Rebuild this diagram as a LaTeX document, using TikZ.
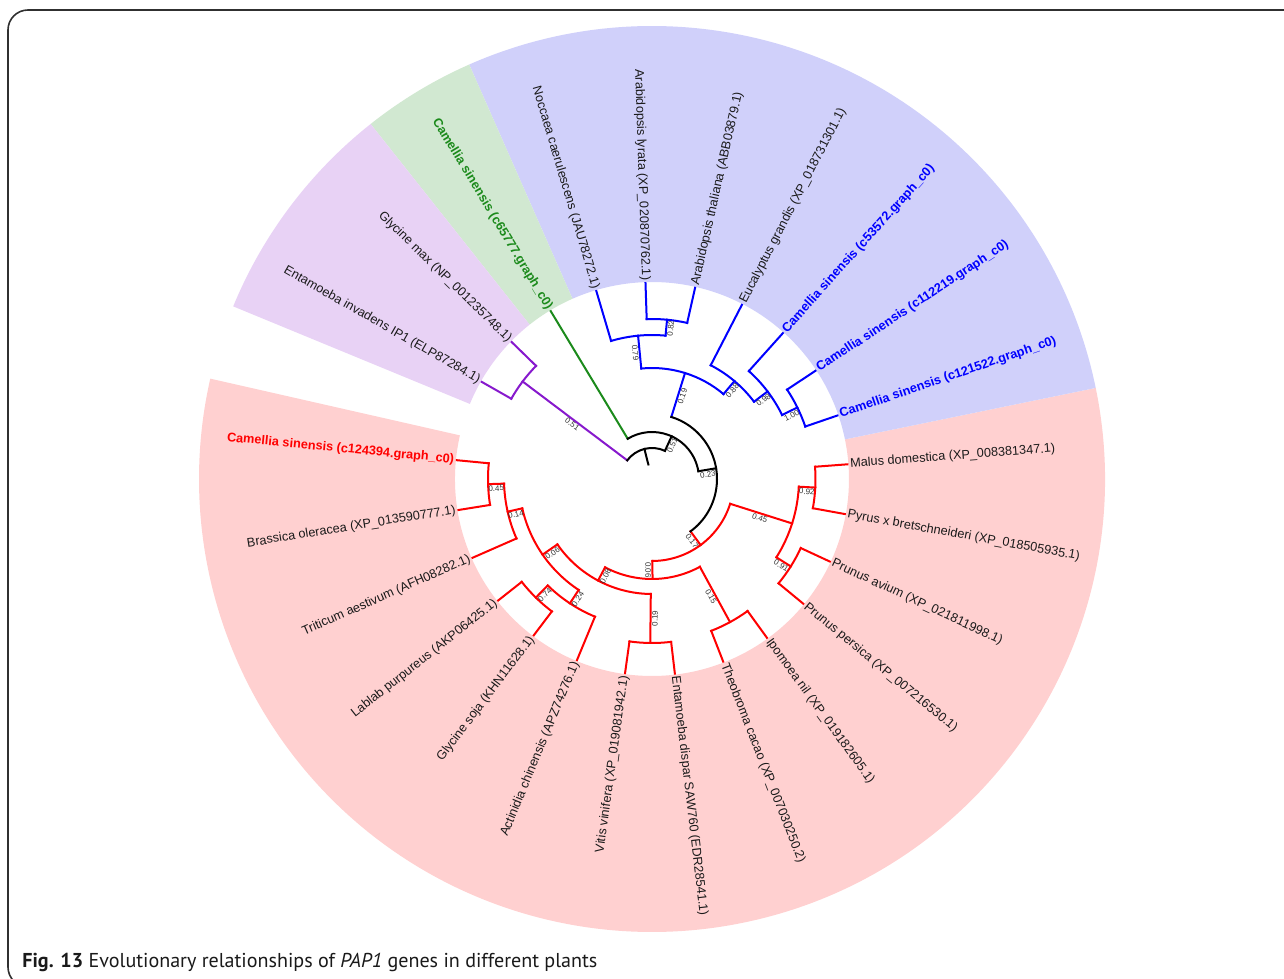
\documentclass[tikz,border=0pt]{standalone}
\usepackage{fontspec}
\setmainfont{Liberation Sans}
\newfontfamily\capfont{PT Sans}
\definecolor{wred}{HTML}{FFD0D0}
\definecolor{wblue}{HTML}{D0D0FA}
\definecolor{wgreen}{HTML}{D1E8D1}
\definecolor{wpurple}{HTML}{E8D2F5}
\definecolor{bred}{HTML}{FF0000}
\definecolor{bblue}{HTML}{0000FF}
\definecolor{bgreen}{HTML}{1B8A1B}
\definecolor{bpurple}{HTML}{8719CD}
\definecolor{txt}{HTML}{1A1A1A}
\definecolor{bstxt}{HTML}{333333}
\definecolor{frame}{HTML}{303030}

\newcommand\tnode[7]{%
  \coordinate (#1) at (#2:#3);
  \coordinate (#1-b) at (#2:#4);
  \draw[#7] (#1-b) -- (#1);
  \draw[#7] (#5:#3) arc[start angle=#5, end angle=#6, radius=#3];
}
\newcommand\tleaf[4]{%
  \coordinate (#1) at (#2:196);
  \coordinate (#1-b) at (#2:#3);
  \draw[#4] (#1-b) -- (#1);
}
\newcommand\lfl[4]{%
  \pgfmathsetmacro\myang{mod(#2,360)}%
  \pgfmathsetmacro\myside{((\myang>90)&&(\myang<270))?1:0}%
  \ifdim\myside pt>0.5pt
    \pgfmathsetmacro\myrot{\myang-180}%
    \node[#3,anchor=east,rotate=\myrot] (#1) at (#2:198.5) {#4};%
  \else
    \node[#3,anchor=west,rotate=\myang] (#1) at (#2:198.5) {#4};%
  \fi}
\newcommand\bsl[5]{%
  \pgfmathsetmacro\myang{mod(#2,360)}%
  \pgfmathsetmacro\myrr{(#3+#4)/2}%
  \pgfmathsetmacro\myside{((\myang>90)&&(\myang<270))?1:0}%
  \ifdim\myside pt>0.5pt
    \pgfmathsetmacro\myrot{\myang-180}%
  \else
    \pgfmathsetmacro\myrot{\myang}%
  \fi
  \node[bs,anchor=north,rotate=\myrot] (#1) at (#2:\myrr) {#5};}
\newcommand\wdg[3]{\fill[#1] (#2:197) arc[start angle=#2,end angle=#3,radius=197] -- (#3:453) arc[start angle=#3,end angle=#2,radius=453] -- cycle;}

\begin{document}
\begin{tikzpicture}[x=0.5pt,y=0.5pt,
  br/.style={line width=1pt,line cap=rect},
  blk/.style={br,black}, rd/.style={br,bred}, bl/.style={br,bblue},
  gr/.style={br,bgreen}, pu/.style={br,bpurple},
  lf/.style={font=\fontsize{6.35}{7}\selectfont, text=txt, inner sep=0pt},
  lfred/.style={lf, font=\fontsize{6.35}{7}\selectfont\bfseries, text=bred},
  lfblue/.style={lf, font=\fontsize{6.35}{7}\selectfont\bfseries, text=bblue},
  lfgreen/.style={lf, font=\fontsize{6.35}{7}\selectfont\bfseries, text=bgreen},
  bs/.style={font=\fontsize{4}{4.5}\selectfont, text=bstxt, inner sep=0.6pt}]
\useasboundingbox (-652,-500) rectangle (632,479);

% frame
\draw[line width=0.8pt, frame, rounded corners=10] (640,469) -- (-644,469) -- (-644,-508) -- (-600,-508);

% coloured wedges
\wdg{wred}{167.2}{371.6}
\wdg{wblue}{371.6}{473.8}
\wdg{wgreen}{473.8}{488.4}
\wdg{wpurple}{488.4}{517.6}

% ---------- red clade ----------
\tleaf{L0}{174.5}{164}{rd}
\tleaf{L1}{189.1}{164}{rd}
\tnode{N1}{181.8}{164}{148}{174.5}{189.1}{rd}
\tleaf{L2}{203.7}{148}{rd}
\tnode{N2}{192.75}{148}{133}{181.8}{203.7}{rd}
\tleaf{L3}{218.3}{166}{rd}
\tleaf{L4}{232.9}{166}{rd}
\tnode{N5}{225.6}{166}{149}{218.3}{232.9}{rd}
\tleaf{L5}{247.5}{149}{rd}
\tnode{N6}{236.55}{149}{133}{225.6}{247.5}{rd}
\tnode{N3}{214.65}{133}{115}{192.75}{236.55}{rd}
\tleaf{L6}{262.1}{164}{rd}
\tleaf{L7}{276.7}{164}{rd}
\tnode{V}{269.4}{164}{115}{262.1}{276.7}{rd}
\tnode{N4}{242.03}{115}{100}{214.65}{269.4}{rd}
\tleaf{L8}{291.3}{163}{rd}
\tleaf{L9}{305.9}{163}{rd}
\tnode{T}{298.6}{163}{100}{291.3}{305.9}{rd}
\tnode{N7}{270.3}{100}{82}{242.03}{298.6}{rd}
\tleaf{L10}{320.5}{164}{rd}
\tleaf{L11}{335.1}{164}{rd}
\tnode{Pp}{327.8}{164}{147}{320.5}{335.1}{rd}
\tleaf{L12}{349.7}{163.5}{rd}
\tleaf{L13}{364.3}{163.5}{rd}
\tnode{M}{357}{163.5}{147}{349.7}{364.3}{rd}
\tnode{Q}{342.4}{147}{82}{327.8}{357}{rd}
\tnode{R}{306.35}{82}{65}{270.3}{342.4}{rd}

% ---------- blue clade ----------
\tleaf{L14}{378.9}{162}{bl}
\tleaf{L15}{393.5}{162}{bl}
\tnode{H}{386.2}{162}{145}{378.9}{393.5}{bl}
\tleaf{L16}{408.1}{145}{bl}
\tnode{G}{397.15}{145}{128}{386.2}{408.1}{bl}
\tleaf{L17}{422.7}{128}{bl}
\tnode{F}{409.9}{128}{111}{397.15}{422.7}{bl}
\tleaf{L18}{437.3}{160}{bl}
\tleaf{L19}{451.9}{160}{bl}
\tnode{E2}{444.6}{160}{144}{437.3}{451.9}{bl}
\tleaf{L20}{466.5}{144}{bl}
\tnode{E}{455.55}{144}{111}{444.6}{466.5}{bl}
\tnode{D}{432.7}{111}{65}{409.9}{455.55}{bl}

% ---------- backbone, green, purple ----------
\tnode{C}{369.5}{65}{47}{306.35}{432.7}{blk}
\tleaf{L21}{481.1}{47}{gr}
\tnode{B}{425.3}{47}{31}{369.5}{481.1}{blk}
\tleaf{L22}{495.7}{162}{pu}
\tleaf{L23}{510.3}{162}{pu}
\tnode{Pu}{503}{162}{31}{495.7}{510.3}{pu}
\tnode{Root}{464.15}{31}{15}{425.3}{503}{blk}

% ---------- leaf labels ----------
\lfl{t0}{174.5}{lfred}{Camellia sinensis (c124394.graph\_c0)}
\lfl{t1}{189.1}{lf}{Brassica oleracea (XP\_013590777.1)}
\lfl{t2}{203.7}{lf}{Triticum aestivum (AFH08282.1)}
\lfl{t3}{218.3}{lf}{Lablab purpureus (AKP06425.1)}
\lfl{t4}{232.9}{lf}{Glycine soja (KHN11628.1)}
\lfl{t5}{247.5}{lf}{Actinidia chinensis (APZ74276.1)}
\lfl{t6}{262.1}{lf}{Vitis vinifera (XP\_019081942.1)}
\lfl{t7}{276.7}{lf}{Entamoeba dispar SAW760 (EDR28541.1)}
\lfl{t8}{291.3}{lf}{Theobroma cacao (XP\_007030250.2)}
\lfl{t9}{305.9}{lf}{Ipomoea nil (XP\_019182605.1)}
\lfl{t10}{320.5}{lf}{Prunus persica (XP\_007216530.1)}
\lfl{t11}{335.1}{lf}{Prunus avium (XP\_021811998.1)}
\lfl{t12}{349.7}{lf}{Pyrus x bretschneideri (XP\_018505935.1)}
\lfl{t13}{364.3}{lf}{Malus domestica (XP\_008381347.1)}
\lfl{t14}{378.9}{lfblue}{Camellia sinensis (c121522.graph\_c0)}
\lfl{t15}{393.5}{lfblue}{Camellia sinensis (c112219.graph\_c0)}
\lfl{t16}{408.1}{lfblue}{Camellia sinensis (c53572.graph\_c0)}
\lfl{t17}{422.7}{lf}{Eucalyptus grandis (XP\_018731301.1)}
\lfl{t18}{437.3}{lf}{Arabidopsis thaliana (ABB03879.1)}
\lfl{t19}{451.9}{lf}{Arabidopsis lyrata (XP\_020870762.1)}
\lfl{t20}{466.5}{lf}{Noccaea caerulescens (JAU78272.1)}
\lfl{t21}{481.1}{lfgreen}{Camellia sinensis (c65777.graph\_c0)}
\lfl{t22}{495.7}{lf}{Glycine max (NP\_001235748.1)}
\lfl{t23}{510.3}{lf}{Entamoeba invadens IP1 (ELP87284.1)}

% ---------- support values ----------
\bsl{b1}{181.8}{148}{164}{0.45}
\bsl{b2}{192.75}{133}{148}{0.14}
\bsl{b3}{225.6}{149}{166}{0.74}
\bsl{b4}{236.55}{133}{149}{0.24}
\bsl{b5}{214.65}{115}{133}{0.06}
\bsl{b6}{269.4}{115}{164}{0.19}
\bsl{b7}{242.03}{100}{115}{0.08}
\bsl{b8}{298.6}{100}{163}{0.15}
\bsl{b9}{270.3}{82}{100}{0.06}
\bsl{b10}{327.8}{147}{164}{0.91}
\bsl{b11}{357}{147}{163.5}{0.92}
\bsl{b12}{342.4}{82}{147}{0.45}
\bsl{b13}{306.35}{65}{82}{0.17}
\bsl{b14}{386.2}{145}{162}{1.00}
\bsl{b15}{397.15}{128}{145}{0.98}
\bsl{b16}{409.9}{111}{128}{0.88}
\bsl{b17}{444.6}{144}{160}{0.82}
\bsl{b18}{455.55}{111}{144}{0.79}
\bsl{b19}{432.7}{65}{111}{0.19}
\bsl{b20}{369.5}{47}{65}{0.23}
\bsl{b21}{425.3}{31}{47}{0.51}
\bsl{b22}{503}{31}{162}{0.51}

% ---------- caption ----------
\node[anchor=base west, inner sep=0pt, text=txt] (cap) at (-630,-488)
  {\resizebox{287.5pt}{!}{\capfont\textbf{Fig. 13} Evolutionary relationships of \textit{PAP1} genes in different plants}};
\end{tikzpicture}
\end{document}
